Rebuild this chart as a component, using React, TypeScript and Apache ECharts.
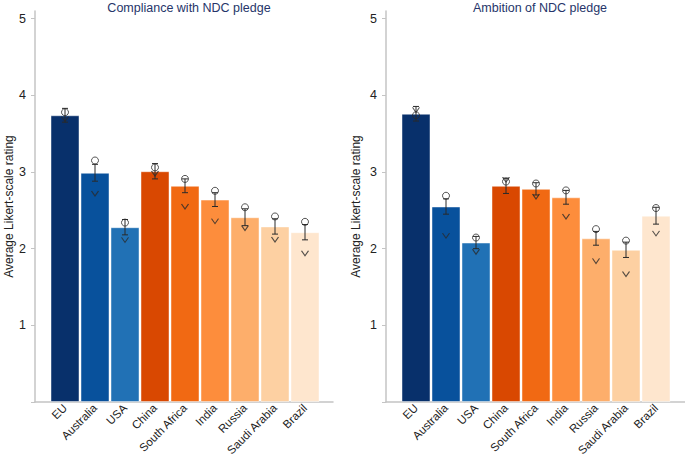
import React, { useEffect, useRef } from "react";
import * as echarts from "echarts";

const categories = ["EU", "Australia", "USA", "China", "South Africa", "India", "Russia", "Saudi Arabia", "Brazil"];
const barColors = ["#08306b", "#08519c", "#2171b5", "#d94801", "#f16913", "#fd8d3c", "#fdae6b", "#fdd0a2", "#fee6ce"];

const complianceMean = [3.74, 2.99, 2.28, 3.01, 2.82, 2.64, 2.41, 2.29, 2.215];
const complianceErr = [0.09, 0.11, 0.1, 0.1, 0.09, 0.09, 0.11, 0.1, 0.1];
const complianceCircle = [3.78, 3.15, 2.34, 3.06, 2.91, 2.755, 2.54, 2.42, 2.35];
const complianceV = [3.69, 2.72, 2.115, 2.98, 2.55, 2.36, 2.27, 2.12, 1.94];

const ambitionMean = [3.76, 2.55, 2.08, 2.82, 2.78, 2.67, 2.135, 1.985, 2.43];
const ambitionErr = [0.095, 0.1, 0.08, 0.1, 0.08, 0.09, 0.09, 0.1, 0.11];
const ambitionCircle = [3.74, 2.69, 2.145, 2.875, 2.85, 2.76, 2.255, 2.105, 2.53];
const ambitionV = [3.81, 2.17, 1.96, 2.9, 2.68, 2.42, 1.84, 1.67, 2.2];

const titles = ["Compliance with NDC pledge", "Ambition of NDC pledge"];
const yName = "Average Likert-scale rating";

const FONT = "Liberation Sans, Arial, sans-serif";
const AXIS_GRAY = "#c4c4c4";
const MARK = "#2a2a2a";

function errRender(params: any, api: any) {
  const x = api.value(0);
  const lo = api.coord([x, api.value(1)]);
  const hi = api.coord([x, api.value(2)]);
  const w = 3;
  const style = { stroke: MARK, lineWidth: 1 };
  return {
    type: "group",
    children: [
      { type: "line", shape: { x1: lo[0], y1: lo[1], x2: hi[0], y2: hi[1] }, style },
      { type: "line", shape: { x1: lo[0] - w, y1: lo[1], x2: lo[0] + w, y2: lo[1] }, style },
      { type: "line", shape: { x1: hi[0] - w, y1: hi[1], x2: hi[0] + w, y2: hi[1] }, style },
    ],
  };
}

function panelSeries(idx: number, mean: number[], err: number[], circ: number[], vv: number[]) {
  return [
    {
      type: "bar",
      xAxisIndex: idx,
      yAxisIndex: idx,
      barWidth: 29,
      data: mean.map((v, i) => ({
        value: v,
        itemStyle: { color: barColors[i], borderColor: "rgba(255,255,255,0.45)", borderWidth: 1 },
      })),
      z: 2,
    },
    {
      type: "custom",
      xAxisIndex: idx,
      yAxisIndex: idx,
      renderItem: errRender,
      encode: { x: 0, y: [1, 2] },
      data: mean.map((m, i) => [i, m - err[i], m + err[i]]),
      z: 3,
    },
    {
      type: "scatter",
      xAxisIndex: idx,
      yAxisIndex: idx,
      symbol: "circle",
      symbolSize: 7,
      itemStyle: { color: "rgba(0,0,0,0)", borderColor: MARK, borderWidth: 1 },
      data: circ.map((v, i) => [i, v]),
      z: 4,
    },
    {
      type: "scatter",
      xAxisIndex: idx,
      yAxisIndex: idx,
      symbol: "path://M0,0L5,8L10,0",
      symbolSize: [7, 5],
      itemStyle: { color: "none", borderColor: MARK, borderWidth: 1 },
      data: vv.map((v, i) => [i, v]),
      z: 4,
    },
  ];
}

export default function App() {
  const ref = useRef<HTMLDivElement>(null);
  useEffect(() => {
    if (!ref.current) return;
    const chart = echarts.init(ref.current, null, { renderer: "svg" });
    const top = 11;
    const height = 391;
    const dataGrids = [
      { left: 50, top, width: 270, height, outerBoundsMode: "none", containLabel: false },
      { left: 401, top, width: 270, height, outerBoundsMode: "none", containLabel: false },
    ];
    const lineGrids = [
      { left: 35, top, width: 298, height, outerBoundsMode: "none", containLabel: false },
      { left: 386, top, width: 299, height, outerBoundsMode: "none", containLabel: false },
    ];
    const catAxis = (gi: number) => ({
      type: "category",
      gridIndex: gi,
      data: categories,
      axisLine: { show: false },
      axisTick: { show: false },
      axisLabel: { rotate: 45, fontSize: 11.5, color: "#222", fontFamily: FONT, margin: 4, interval: 0 },
    });
    const valAxis = (gi: number, nameGap: number) => ({
      type: "value",
      gridIndex: gi,
      min: 0,
      max: 5.1,
      interval: 1,
      offset: 15,
      name: yName,
      nameLocation: "middle",
      nameGap,
      nameTextStyle: { fontSize: 12, color: "#222", fontFamily: FONT },
      axisLine: { show: true, lineStyle: { color: AXIS_GRAY, width: 1.5 } },
      axisTick: { show: true, length: 4, lineStyle: { color: AXIS_GRAY } },
      axisLabel: {
        fontSize: 12.5,
        color: "#222",
        fontFamily: FONT,
        margin: 9,
        formatter: (v: number) => (v === 0 ? "" : String(v)),
      },
      splitLine: { show: false },
    });
    const lineX = (gi: number) => ({
      type: "value",
      gridIndex: gi,
      min: 0,
      max: 1,
      axisLine: { show: true, lineStyle: { color: AXIS_GRAY, width: 1.5 } },
      axisTick: { show: false },
      axisLabel: { show: false },
      splitLine: { show: false },
    });
    const lineY = (gi: number) => ({
      type: "value",
      gridIndex: gi,
      min: 0,
      max: 1,
      show: false,
    });
    chart.setOption({
      animation: false,
      backgroundColor: "#ffffff",
      textStyle: { fontFamily: FONT },
      title: titles.map((t, i) => ({
        text: t,
        left: i === 0 ? 184 : 535,
        textAlign: "center",
        top: -4,
        textStyle: { fontSize: 12.5, fontWeight: "normal", color: "#26356a", fontFamily: FONT },
      })),
      grid: [...dataGrids, ...lineGrids],
      xAxis: [catAxis(0), catAxis(1), lineX(2), lineX(3)],
      yAxis: [valAxis(0, 18), valAxis(1, 24), lineY(2), lineY(3)],
      series: [
        ...panelSeries(0, complianceMean, complianceErr, complianceCircle, complianceV),
        ...panelSeries(1, ambitionMean, ambitionErr, ambitionCircle, ambitionV),
      ],
    });
    return () => chart.dispose();
  }, []);
  return <div ref={ref} style={{ position: "fixed", left: 0, top: 0, width: 685, height: 457 }} />;
}
